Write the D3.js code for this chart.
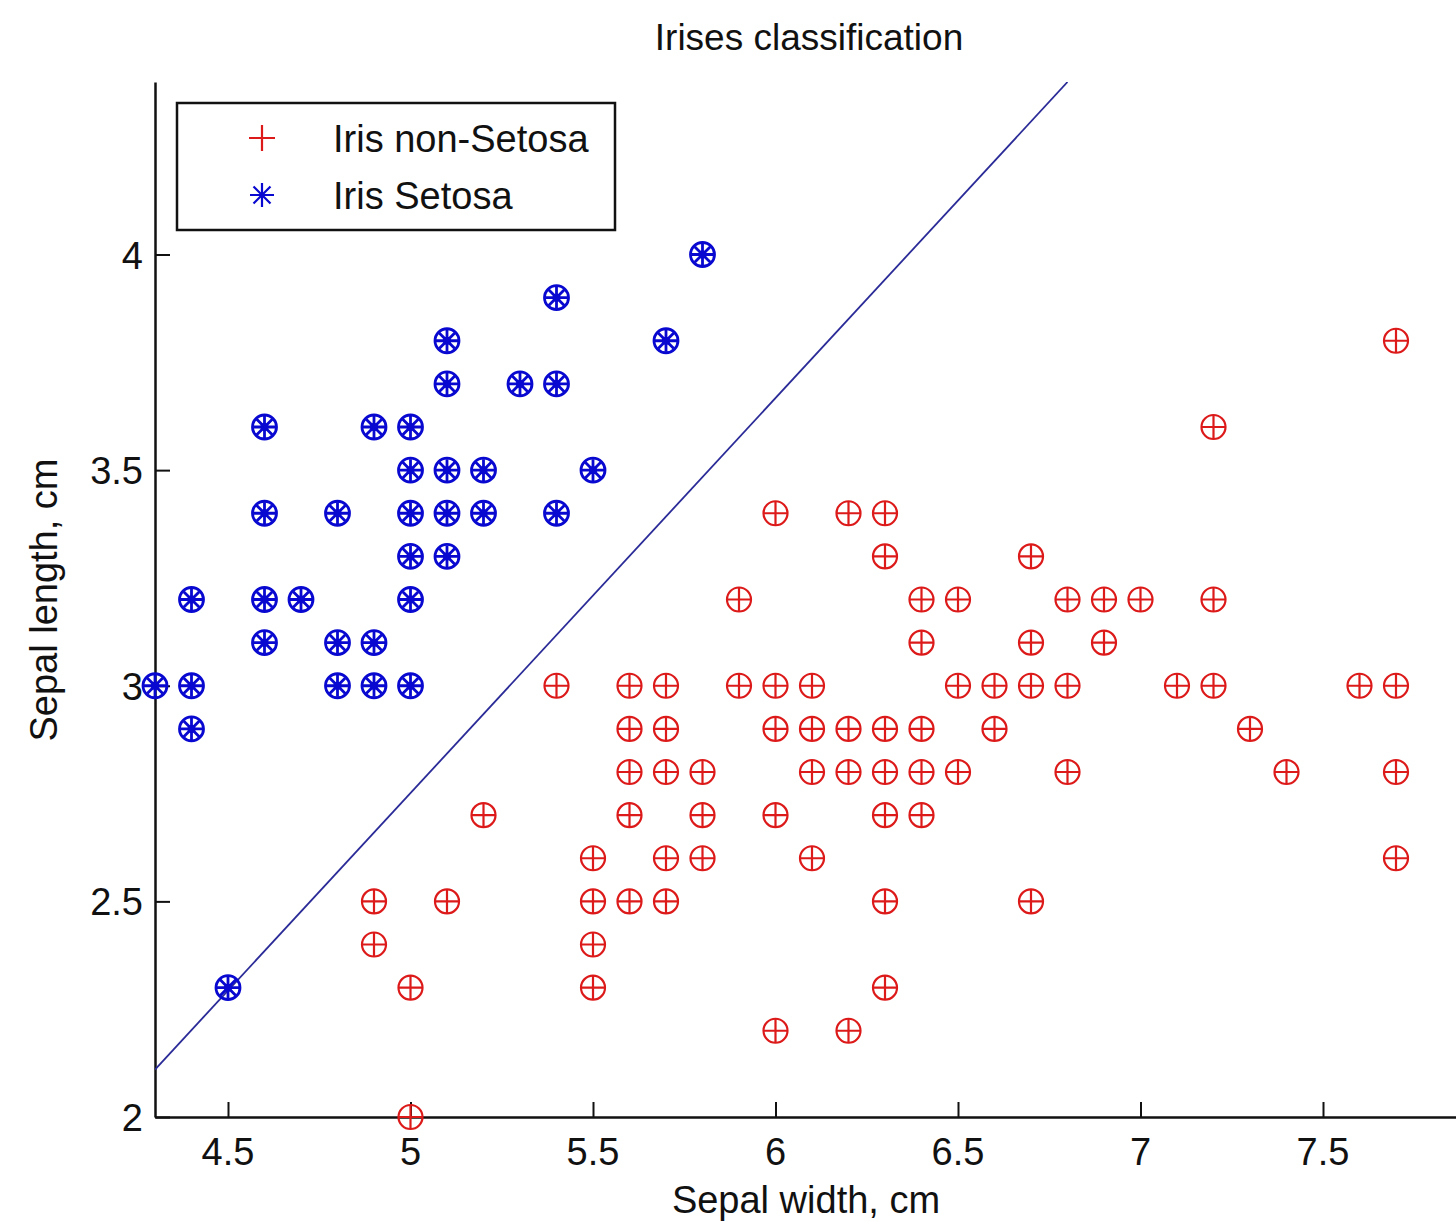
<!DOCTYPE html>
<html>
<head>
<meta charset="utf-8">
<script src="https://cdn.jsdelivr.net/npm/d3@7"></script>
<style>
  body { margin: 0; background: #fff; }
  text { font-family: "Liberation Sans", Arial, sans-serif; fill: #111; }
</style>
</head>
<body>
<svg id="chart" width="1456" height="1222"></svg>
<script>
// Iris Setosa (blue)
const setosaX = [5.8, 5.4, 5.1, 5.7, 5.1, 5.3, 5.4, 4.6, 4.9, 5.0,
                 5.0, 5.1, 5.2, 5.5, 4.6, 4.8, 5.0, 5.1, 5.2, 5.4,
                 5.0, 5.1, 4.4, 4.6, 4.7, 5.0, 4.6, 4.8, 4.9,
                 4.3, 4.4, 4.8, 4.9, 5.0, 4.4, 4.5];
const setosaY = [4.0, 3.9, 3.8, 3.8, 3.7, 3.7, 3.7, 3.6, 3.6, 3.6,
                 3.5, 3.5, 3.5, 3.5, 3.4, 3.4, 3.4, 3.4, 3.4, 3.4,
                 3.3, 3.3, 3.2, 3.2, 3.2, 3.2, 3.1, 3.1, 3.1,
                 3.0, 3.0, 3.0, 3.0, 3.0, 2.9, 2.3];

// Iris non-Setosa (red)
const nonSetosaX = [7.7, 7.2,
                    6.0, 6.2, 6.3,
                    6.3, 6.7,
                    5.9, 6.4, 6.5, 6.8, 6.9, 7.0, 7.2,
                    6.4, 6.7, 6.9,
                    5.4, 5.6, 5.7, 5.9, 6.0, 6.1, 6.5, 6.6, 6.7, 6.8, 7.1, 7.2, 7.6, 7.7,
                    5.6, 5.7, 6.0, 6.1, 6.2, 6.3, 6.4, 6.6, 7.3,
                    5.6, 5.7, 5.8, 6.1, 6.2, 6.3, 6.4, 6.5, 6.8, 7.4, 7.7,
                    5.2, 5.6, 5.8, 6.0, 6.3, 6.4,
                    5.5, 5.7, 5.8, 6.1, 7.7,
                    4.9, 5.1, 5.5, 5.6, 5.7, 6.3, 6.7,
                    4.9, 5.5,
                    5.0, 5.5, 6.3,
                    6.0, 6.2,
                    5.0];
const nonSetosaY = [3.8, 3.6,
                    3.4, 3.4, 3.4,
                    3.3, 3.3,
                    3.2, 3.2, 3.2, 3.2, 3.2, 3.2, 3.2,
                    3.1, 3.1, 3.1,
                    3.0, 3.0, 3.0, 3.0, 3.0, 3.0, 3.0, 3.0, 3.0, 3.0, 3.0, 3.0, 3.0, 3.0,
                    2.9, 2.9, 2.9, 2.9, 2.9, 2.9, 2.9, 2.9, 2.9,
                    2.8, 2.8, 2.8, 2.8, 2.8, 2.8, 2.8, 2.8, 2.8, 2.8, 2.8,
                    2.7, 2.7, 2.7, 2.7, 2.7, 2.7,
                    2.6, 2.6, 2.6, 2.6, 2.6,
                    2.5, 2.5, 2.5, 2.5, 2.5, 2.5, 2.5,
                    2.4, 2.4,
                    2.3, 2.3, 2.3,
                    2.2, 2.2,
                    2.0];

// separating line, two end points
const boundaryX = [4.3, 6.8];
const boundaryY = [2.11, 4.4];

const xTicks = [4.5, 5, 5.5, 6, 6.5, 7, 7.5];
const yTicks = [2, 2.5, 3, 3.5, 4];

const redColor = "#dd1a1a";
const blueColor = "#0808d0";

const svg = d3.select("#chart");

const x = d3.scaleLinear().domain([4.3, 7.9]).range([155, 1469]);
const y = d3.scaleLinear().domain([2, 4.4]).range([1117, 82]);

svg.append("defs").append("clipPath")
    .attr("id", "plotClip")
    .append("rect")
    .attr("x", x(4.3)).attr("y", y(4.4))
    .attr("width", x(7.9) - x(4.3)).attr("height", y(2) - y(4.4));

// axes, ticks pointing inward
const xAxis = svg.append("g")
    .attr("transform", `translate(0,${y(2)})`)
    .call(d3.axisTop(x).tickValues(xTicks).tickSize(15).tickSizeOuter(0).tickFormat(d3.format("")));
const yAxis = svg.append("g")
    .attr("transform", `translate(${x(4.3)},0)`)
    .call(d3.axisRight(y).tickValues(yTicks).tickSize(15).tickSizeOuter(0).tickFormat(d3.format("")));

[xAxis, yAxis].forEach(g => {
    g.select(".domain").attr("stroke", "#111").attr("stroke-width", 2.5);
    g.selectAll(".tick line").attr("stroke", "#111").attr("stroke-width", 2);
    g.selectAll(".tick text").remove();
});

svg.append("g").selectAll("text")
    .data(xTicks)
    .enter().append("text")
    .attr("x", d => x(d))
    .attr("y", y(2) + 48)
    .attr("text-anchor", "middle")
    .attr("font-size", 38)
    .text(d => d);

svg.append("g").selectAll("text")
    .data(yTicks)
    .enter().append("text")
    .attr("x", x(4.3) - 12)
    .attr("y", d => y(d) + 14)
    .attr("text-anchor", "end")
    .attr("font-size", 38)
    .text(d => d);

// boundary line
svg.append("line")
    .attr("clip-path", "url(#plotClip)")
    .attr("x1", x(boundaryX[0])).attr("y1", y(boundaryY[0]))
    .attr("x2", x(boundaryX[1])).attr("y2", y(boundaryY[1]))
    .attr("stroke", "#2b2b98")
    .attr("stroke-width", 1.8);

const r = 12;

function plusPath(len) {
    return `M${-len},0H${len}M0,${-len}V${len}`;
}
function starPath(len) {
    const d = len * 0.7071;
    return plusPath(len) + `M${-d},${-d}L${d},${d}M${-d},${d}L${d},${-d}`;
}

function drawPoints(xs, ys, color, cross, width) {
    const pts = xs.map((v, i) => [v, ys[i]]);
    const g = svg.append("g").selectAll("g")
        .data(pts)
        .enter().append("g")
        .attr("transform", d => `translate(${x(d[0])},${y(d[1])})`);
    g.append("path")
        .attr("d", cross)
        .attr("fill", "none")
        .attr("stroke", color)
        .attr("stroke-width", width);
    g.append("circle")
        .attr("r", r)
        .attr("fill", "none")
        .attr("stroke", color)
        .attr("stroke-width", width);
    return g;
}

drawPoints(nonSetosaX, nonSetosaY, redColor, plusPath(r), 2.2);
drawPoints(setosaX, setosaY, blueColor, starPath(r - 1), 2.8)
    .append("circle").attr("r", 4).attr("fill", blueColor);

// legend
const legend = svg.append("g");
legend.append("rect")
    .attr("x", 177).attr("y", 103)
    .attr("width", 438).attr("height", 127)
    .attr("fill", "#fff")
    .attr("stroke", "#111")
    .attr("stroke-width", 2.5);

const legendItems = [
    { label: "Iris non-Setosa", color: redColor, path: plusPath(13) },
    { label: "Iris Setosa", color: blueColor, path: starPath(12) }
];
const li = legend.selectAll(".item")
    .data(legendItems)
    .enter().append("g")
    .attr("class", "item")
    .attr("transform", (d, i) => `translate(262,${138 + i * 57})`);
li.append("path")
    .attr("d", d => d.path)
    .attr("stroke", d => d.color)
    .attr("stroke-width", 2.2)
    .attr("fill", "none");
li.append("text")
    .attr("x", 71)
    .attr("y", 14)
    .attr("font-size", 38)
    .text(d => d.label);

// titles
svg.append("text")
    .attr("x", 809).attr("y", 50)
    .attr("text-anchor", "middle")
    .attr("font-size", 37)
    .text("Irises classification");

svg.append("text")
    .attr("x", 806).attr("y", 1213)
    .attr("text-anchor", "middle")
    .attr("font-size", 38)
    .text("Sepal width, cm");

svg.append("text")
    .attr("transform", "translate(57,600) rotate(-90)")
    .attr("text-anchor", "middle")
    .attr("font-size", 38)
    .text("Sepal length, cm");
</script>
</body>
</html>
